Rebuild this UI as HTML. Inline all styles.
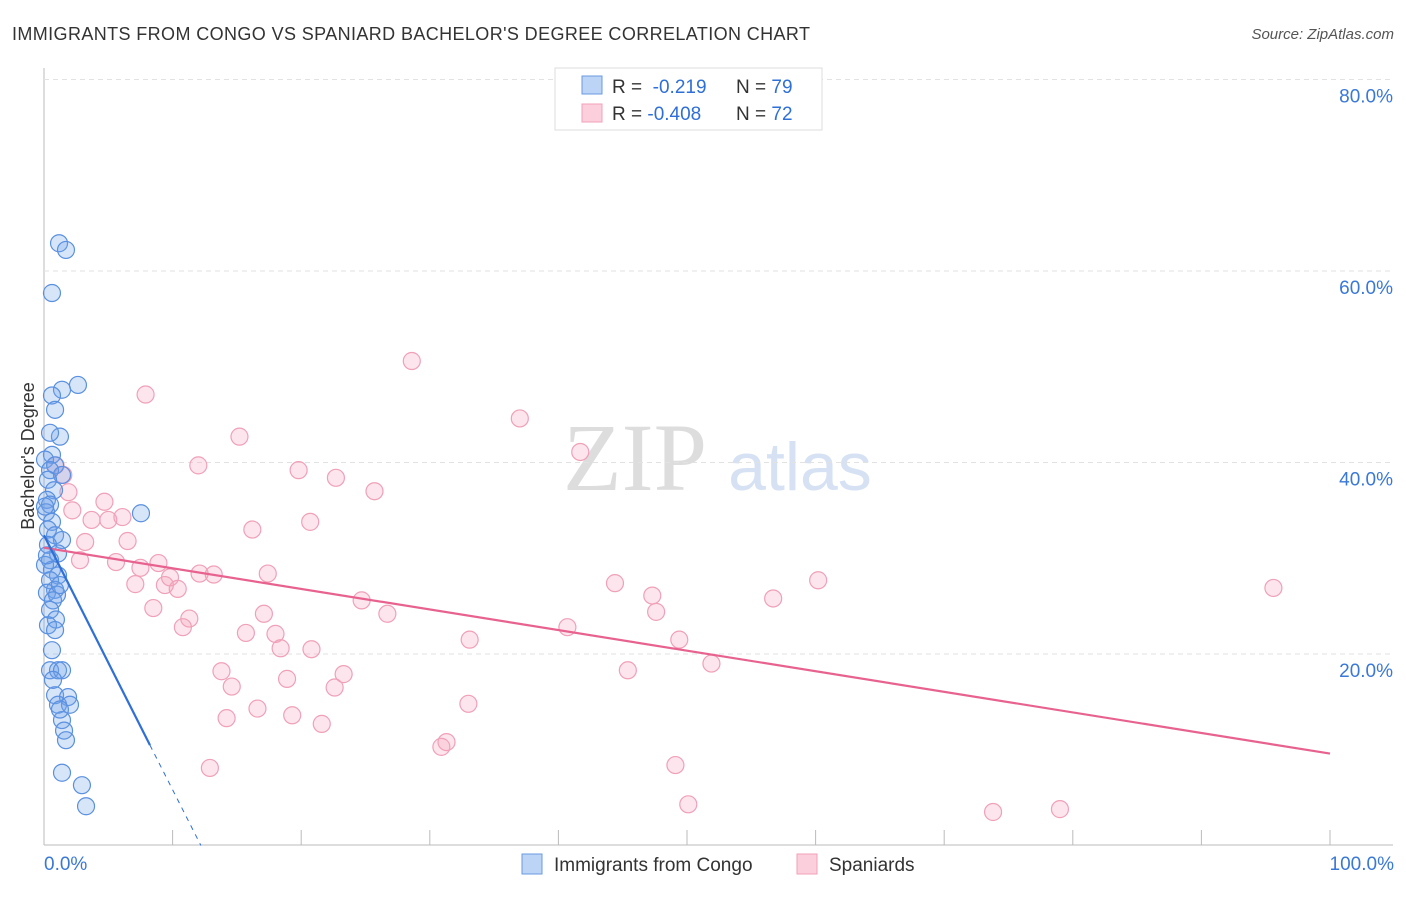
<!DOCTYPE html>
<html><head><meta charset="utf-8"><style>
body{margin:0;background:#fff;font-family:"Liberation Sans",sans-serif}
svg text{font-family:"Liberation Sans",sans-serif}
</style></head><body>
<svg id="c" width="1406" height="892" xmlns="http://www.w3.org/2000/svg">
<text x="12" y="40" font-size="18" fill="#333" textLength="798" lengthAdjust="spacing">IMMIGRANTS FROM CONGO VS SPANIARD BACHELOR'S DEGREE CORRELATION CHART</text>
<text x="1394" y="39" font-size="15" fill="#555" text-anchor="end" font-style="italic">Source: ZipAtlas.com</text>
<text x="34" y="456" font-size="18" fill="#333" text-anchor="middle" transform="rotate(-90 34 456)">Bachelor's Degree</text>
<text x="635" y="490" font-size="96" fill="#ddd" font-family="Liberation Serif" text-anchor="middle" style="font-family:'Liberation Serif',serif">ZIP</text>
<text x="800" y="490" font-size="68" fill="#d6e2f4" text-anchor="middle">atlas</text>
<g id="grid"></g><g id="pts"></g><g id="lines"></g>
<g>
<rect x="555" y="68" width="267" height="62" fill="#fff" stroke="#ddd"/>
<rect x="582" y="76" width="20" height="18" fill="#bcd4f5" stroke="#6a9ae0"/>
<rect x="582" y="104" width="20" height="18" fill="#fbcfdc" stroke="#f0a0b8"/>
<text x="612" y="93" font-size="19" fill="#333">R = <tspan fill="#2f6fd8">&#160;-0.219</tspan><tspan x="736">N = </tspan><tspan fill="#2f6fd8">79</tspan></text>
<text x="612" y="120" font-size="19" fill="#333">R = <tspan fill="#2f6fd8">-0.408</tspan><tspan x="736">N = </tspan><tspan fill="#2f6fd8">72</tspan></text>
</g>
<g>
<rect x="522" y="854" width="20" height="20" fill="#bcd4f5" stroke="#6a9ae0"/>
<text x="554" y="871" font-size="19" fill="#333">Immigrants from Congo</text>
<rect x="797" y="854" width="20" height="20" fill="#fbcfdc" stroke="#f0a0b8"/>
<text x="829" y="871" font-size="19" fill="#333">Spaniards</text>
</g>
</svg>
<script>
const yTicks=[20,40,60,80];
const yTickLabels=["20.0%","40.0%","60.0%","80.0%"];
const xTickVals=[0,10,20,30,40,50,60,70,80,90,100];
const congoX=[1.17,1.71,0.62,2.64,1.40,0.62,0.86,1.24,0.47,0.62,0.08,0.86,0.47,1.40,0.31,0.78,0.23,0.47,0.16,0.62,0.31,0.86,1.40,0.31,1.09,0.47,0.08,0.62,1.09,0.47,0.86,0.23,1.01,0.70,0.47,0.93,0.31,0.62,0.47,1.09,1.40,0.86,1.87,1.09,2.02,1.40,1.56,1.71,1.40,2.95,3.27,7.54,0.08,0.23,1.24,0.86,0.70,1.24];
const congoY=[62.9,62.2,57.7,48.1,47.6,47.0,45.5,42.7,43.1,40.8,40.3,39.7,39.2,38.7,38.2,37.1,36.1,35.6,34.8,33.8,33.0,32.4,31.9,31.4,30.5,29.8,29.3,28.8,28.2,27.7,26.7,26.4,26.2,25.6,24.6,23.6,23.0,20.4,18.3,18.3,18.3,15.7,15.5,14.7,14.7,13.1,12.0,11.0,7.6,6.3,4.1,34.7,35.4,30.3,27.2,22.5,17.3,14.2];
const spanX=[28.6,37.0,7.9,41.7,15.2,12.0,19.8,22.7,25.7,1.5,0.9,1.9,4.7,20.7,16.2,2.2,3.7,6.1,5.0,3.2,6.5,8.9,5.6,2.8,7.5,9.8,12.1,13.2,17.4,7.1,9.4,10.4,24.7,26.7,17.1,44.4,47.3,47.6,56.7,60.2,95.6,8.5,11.3,10.8,15.7,18.0,20.8,18.4,33.1,40.7,49.4,51.9,45.4,13.8,14.6,23.3,18.9,22.6,16.6,19.3,14.2,21.6,33.0,31.3,30.9,12.9,49.1,50.1,73.8,79.0];
const spanY=[50.6,44.6,47.1,41.1,42.7,39.7,39.2,38.4,37.0,38.7,39.7,36.9,35.9,33.8,33.0,35.0,34.0,34.3,34.0,31.7,31.8,29.5,29.6,29.8,29.0,28.0,28.4,28.3,28.4,27.3,27.2,26.8,25.6,24.2,24.2,27.4,26.1,24.4,25.8,27.7,26.9,24.8,23.7,22.8,22.2,22.1,20.5,20.6,21.5,22.8,21.5,19.0,18.3,18.2,16.6,17.9,17.4,16.5,14.3,13.6,13.3,12.7,14.8,10.8,10.3,8.1,8.4,4.3,3.5,3.8];
const congoTrend=[32.4,-2.66,8.24,12.2];
const spanTrend=[31.1,-0.215];
const NS="http://www.w3.org/2000/svg";
const xs=v=>44+v*12.86, ys=v=>845.5-v*9.575;
function mk(t,a,p){const e=document.createElementNS(NS,t);for(const k in a)e.setAttribute(k,a[k]);p.appendChild(e);return e;}
const g=document.getElementById('grid');
mk('line',{x1:44,y1:68,x2:44,y2:845,stroke:'#bbb'},g);
mk('line',{x1:44,y1:845,x2:1393,y2:845,stroke:'#bbb'},g);
yTicks.forEach((t,i)=>{
 const l=mk('line',{x1:44,y1:ys(t),x2:1393,y2:ys(t),stroke:'#e2e2e2','stroke-dasharray':'5,4'},g);
 
 
 const tx=mk('text',{x:1393,y:ys(t)+23,'font-size':19,fill:'#3a78d8','text-anchor':'end'},g);tx.textContent=yTickLabels[i];
 
 
});
xTickVals.forEach(t=>{const l=mk('line',{x1:xs(t),y1:830,x2:xs(t),y2:845,stroke:'#bbb'},g);
 
 });
let t0=mk('text',{x:44,y:870,'font-size':19,fill:'#3a78d8'},g);t0.textContent='0.0%';


let t1=mk('text',{x:1394,y:870,'font-size':19,fill:'#3a78d8','text-anchor':'end'},g);t1.textContent='100.0%';


const p=document.getElementById('pts');
spanX.forEach((x,i)=>{const c=mk('circle',{cx:xs(x),cy:ys(spanY[i]),r:8.5,fill:'rgba(244,160,188,0.28)',stroke:'#f0a0b8','stroke-width':1.2},p);
 
 });
congoX.forEach((x,i)=>{const c=mk('circle',{cx:xs(x),cy:ys(congoY[i]),r:8.5,fill:'rgba(110,160,235,0.28)',stroke:'#5a90e0','stroke-width':1.2},p);
 
 });
const L=document.getElementById('lines');
let a=mk('line',{x1:xs(0),y1:ys(spanTrend[0]),x2:xs(100),y2:ys(spanTrend[0]+spanTrend[1]*100),stroke:'#e8628f','stroke-width':2.2},L);


let b=mk('line',{x1:xs(0),y1:ys(congoTrend[0]),x2:xs(congoTrend[2]),y2:ys(congoTrend[0]+congoTrend[1]*congoTrend[2]),stroke:'#2f6fd8','stroke-width':2.2},L);


let d=mk('line',{x1:xs(congoTrend[2]),y1:ys(congoTrend[0]+congoTrend[1]*congoTrend[2]),x2:xs(congoTrend[3]),y2:ys(Math.max(0,congoTrend[0]+congoTrend[1]*congoTrend[3])),stroke:'#2f6fd8','stroke-width':1,'stroke-dasharray':'5,5'},L);


</script>
</body></html>
